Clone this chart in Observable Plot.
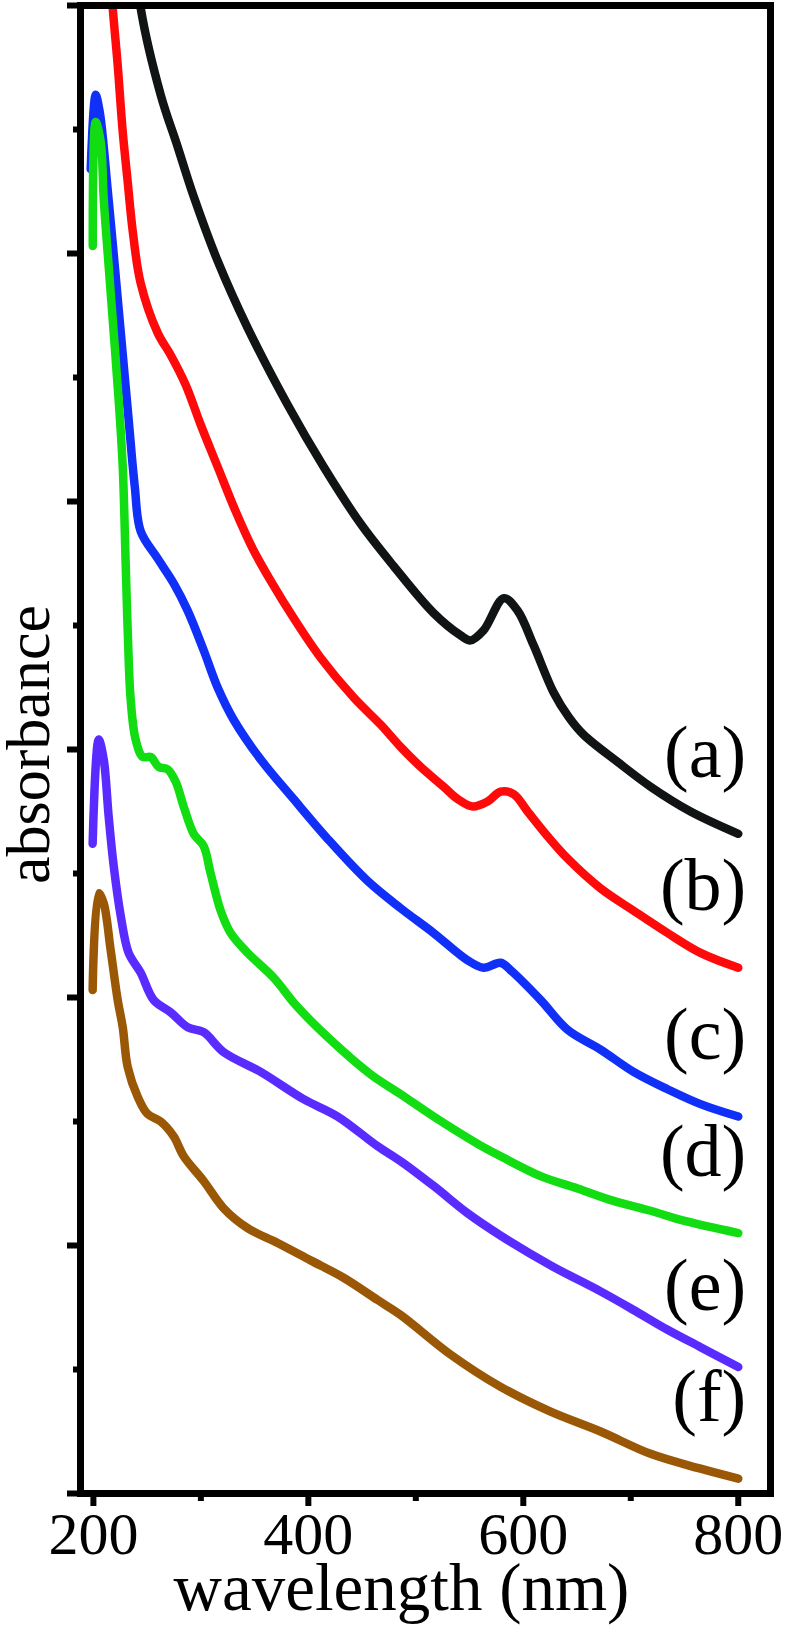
<!DOCTYPE html>
<html>
<head>
<meta charset="utf-8">
<script src="https://cdn.jsdelivr.net/npm/d3@7"></script>
<script src="https://cdn.jsdelivr.net/npm/@observablehq/plot@0.6"></script>
<style>
  html, body { margin: 0; padding: 0; background: #fff; }
  #chart svg { display: block; }
</style>
</head>
<body>
<div id="chart"></div>
<script>
// ---- data (wavelength in nm, absorbance in arbitrary units) ----
const seriesNames = ["(a)", "(b)", "(c)", "(d)", "(e)", "(f)"];
const seriesColors = ["#111414", "#fe0a0a", "#1030f8", "#12dc12", "#5a2bff", "#9a5806"];

const wlA = [238, 244, 262.6, 278.4, 293.3, 315.6, 343.5, 380.7, 414.2, 448.7, 479.3, 516.6, 541.7, 551, 563, 581.9, 594.7, 609.6, 628.2, 642.4, 656, 687.7, 718.4, 755.6, 800];
const absA = [6.25, 5.99, 5.64, 5.43, 5.23, 4.97, 4.70, 4.39, 4.14, 3.91, 3.74, 3.55, 3.46, 3.44, 3.48, 3.61, 3.56, 3.42, 3.23, 3.13, 3.06, 2.95, 2.85, 2.75, 2.66];

const wlB = [214, 218, 222.6, 227.3, 231.9, 236.6, 244, 259.8, 272, 285.9, 299.8, 315.6, 332.4, 348.2, 365, 386.3, 411.4, 442.1, 467.3, 485.9, 504.5, 525.9, 538.9, 552.8, 566.8, 578.9, 591, 604, 622.6, 641.2, 671.9, 702.6, 734.2, 764.9, 800];
const absB = [6.25, 5.99, 5.76, 5.49, 5.29, 5.09, 4.88, 4.68, 4.59, 4.47, 4.31, 4.14, 3.96, 3.81, 3.68, 3.53, 3.37, 3.21, 3.10, 3.01, 2.93, 2.85, 2.80, 2.77, 2.79, 2.83, 2.82, 2.75, 2.65, 2.56, 2.44, 2.35, 2.26, 2.18, 2.12];

const wlC = [197.5, 202.1, 205.5, 208, 213, 218, 223, 228, 233, 238.5, 244, 259.8, 274.7, 287.7, 302.6, 315.6, 330.5, 355.6, 386.3, 417.9, 455.1, 485.9, 516.6, 548.2, 563, 578.9, 588.2, 616.1, 641.2, 671.9, 702.6, 734.2, 764.9, 800];
const absC = [5.34, 5.64, 5.58, 5.50, 5.27, 5.04, 4.80, 4.56, 4.32, 4.06, 3.88, 3.77, 3.67, 3.56, 3.40, 3.25, 3.12, 2.96, 2.80, 2.64, 2.47, 2.36, 2.26, 2.15, 2.12, 2.14, 2.11, 1.99, 1.87, 1.79, 1.70, 1.63, 1.57, 1.52];

const wlD = [199.4, 202.1, 206.8, 209.6, 214.2, 218.9, 223.5, 227.3, 230.1, 232, 234.7, 239.3, 245.9, 253.3, 260.7, 269.1, 276.6, 284, 293.3, 302.6, 309.1, 318.4, 327.7, 343.5, 367.7, 388.2, 418, 458, 485.9, 516.6, 557.5, 578.9, 616.1, 650.5, 684, 718.4, 749.1, 800];
const absD = [5.03, 5.53, 5.45, 5.22, 4.95, 4.68, 4.41, 4.14, 3.74, 3.47, 3.20, 3.04, 2.97, 2.97, 2.93, 2.92, 2.87, 2.77, 2.66, 2.61, 2.50, 2.35, 2.26, 2.18, 2.08, 1.97, 1.84, 1.69, 1.61, 1.52, 1.41, 1.36, 1.28, 1.23, 1.18, 1.14, 1.10, 1.05];

const wlE = [199.3, 204.9, 209.6, 214.2, 218.9, 225.4, 232.8, 244, 256.1, 271.9, 287.7, 302.6, 321.2, 355.6, 395.6, 427.3, 464.5, 485.9, 516.6, 548.2, 578.9, 625.4, 671.9, 702.6, 734.2, 764.9, 800];
const absE = [2.62, 3.04, 2.96, 2.73, 2.53, 2.33, 2.18, 2.10, 1.99, 1.94, 1.88, 1.86, 1.78, 1.70, 1.59, 1.52, 1.40, 1.34, 1.24, 1.13, 1.04, 0.92, 0.815, 0.74, 0.66, 0.59, 0.51];

const wlF = [199.3, 204.9, 209.6, 216.1, 222.6, 227.3, 231.9, 241.2, 250.5, 262.6, 274.7, 284, 302.6, 321.2, 343.5, 371.4, 402.1, 432.8, 464.5, 485.9, 532.4, 578.9, 625.4, 671.9, 718.4, 764.9, 800];
const absF = [2.03, 2.42, 2.38, 2.19, 1.99, 1.88, 1.72, 1.60, 1.53, 1.50, 1.44, 1.36, 1.26, 1.15, 1.07, 1.01, 0.94, 0.87, 0.78, 0.72, 0.56, 0.43, 0.33, 0.25, 0.16, 0.10, 0.06];

const xTickValues = [200, 400, 600, 800];
const xMinorTicks = [300, 500, 700];
const yMajorTicks = [0, 1, 2, 3, 4, 5, 6];
const yMinorTicks = [0.5, 1.5, 2.5, 3.5, 4.5, 5.5];

// ---- build table ----
const wls = [wlA, wlB, wlC, wlD, wlE, wlF];
const abss = [absA, absB, absC, absD, absE, absF];
const rows = [];
seriesNames.forEach((name, i) => {
  wls[i].forEach((w, j) => rows.push({series: name, wl: w, abs: abss[i][j]}));
});
const ends = seriesNames.map((name, i) => ({series: name, wl: wls[i][wls[i].length - 1], abs: abss[i][abss[i].length - 1]}));

const serif = "'Liberation Serif', 'Times New Roman', serif";

const chart = Plot.plot({
  width: 787,
  height: 1638,
  marginLeft: 80,
  marginRight: 17,
  marginTop: 5,
  marginBottom: 145,
  style: {fontFamily: serif, background: "#fff"},
  x: {domain: [188, 830]},
  y: {domain: [0, 6]},
  color: {domain: seriesNames, range: seriesColors},
  marks: [
    Plot.line(rows, {
      x: "wl", y: "abs", z: "series", stroke: "series",
      strokeWidth: 8.5, strokeLinecap: "round", strokeLinejoin: "round",
      curve: "catmull-rom", clip: true
    }),
    Plot.text(ends, {
      x: "wl", y: "abs", text: "series", textAnchor: "end",
      dx: 8, dy: -81, fontSize: 74, fill: "#000", fontFamily: serif
    }),
    Plot.axisX({ticks: xTickValues, tickSize: 13, strokeWidth: 6, tickPadding: 5, fontSize: 60, label: null, fill: "#000"}),
    Plot.axisX({ticks: xMinorTicks, tickSize: 8, strokeWidth: 6, text: null, label: null}),
    Plot.axisY({ticks: yMajorTicks, tickSize: 13, strokeWidth: 6, text: null, label: null}),
    Plot.axisY({ticks: yMinorTicks, tickSize: 7, strokeWidth: 6, text: null, label: null}),
    Plot.frame({stroke: "#000", strokeWidth: 7}),
    Plot.text(["wavelength (nm)"], {frameAnchor: "bottom", dx: -24, dy: 116, fontSize: 67, fill: "#000", fontFamily: serif}),
    Plot.text(["absorbance"], {frameAnchor: "left", textAnchor: "middle", dx: -51, dy: -5, rotate: -90, fontSize: 62, fill: "#000", fontFamily: serif})
  ]
});
document.getElementById("chart").appendChild(chart);
</script>
</body>
</html>
